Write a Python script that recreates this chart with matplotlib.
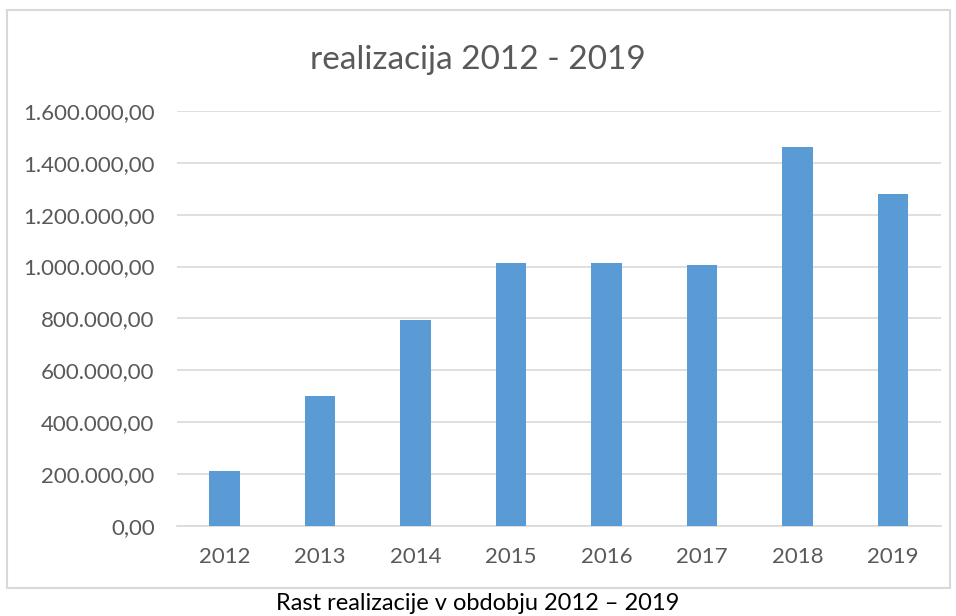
import matplotlib.pyplot as plt
from matplotlib.patches import Rectangle
from matplotlib.ticker import FuncFormatter, MultipleLocator

plt.rcParams['font.family'] = ['Lato', 'DejaVu Sans']

# Data
years = ['2012', '2013', '2014', '2015', '2016', '2017', '2018', '2019']
values = [214000, 500000, 796000, 1012000, 1015000, 1006000, 1462000, 1281000]

bar_color = '#5B9BD5'
grid_color = '#D9D9D9'
text_color = '#595959'


def fmt_eu(v, pos):
    s = f'{v:,.2f}'
    return s.replace(',', 'X').replace('.', ',').replace('X', '.')


fig = plt.figure(figsize=(9.56, 6.16), dpi=100)
ax = fig.add_axes([0.185, 0.146, 0.799, 0.674])

x = range(len(years))
ax.bar(x, values, width=0.32, color=bar_color, zorder=3)

ax.set_xlim(-0.5, len(years) - 0.5)
ax.set_ylim(0, 1600000)
ax.yaxis.set_major_locator(MultipleLocator(200000))
ax.yaxis.set_major_formatter(FuncFormatter(fmt_eu))
ax.set_xticks(list(x))
ax.set_xticklabels(years)

ax.grid(axis='y', color=grid_color, linewidth=1.2, zorder=0)
for side in ['top', 'right', 'left']:
    ax.spines[side].set_visible(False)
ax.spines['bottom'].set_color(grid_color)
ax.spines['bottom'].set_linewidth(1.2)
ax.tick_params(axis='both', length=0, labelsize=16, colors=text_color)
ax.tick_params(axis='x', pad=15)
ax.tick_params(axis='y', pad=16)

# Title and outer frame
fig.text(0.5, 0.902, 'realizacija 2012 - 2019', ha='center', va='center',
         fontsize=24, color=text_color)
fig.patches.append(Rectangle((0.0073, 0.045), 0.9867, 0.939, transform=fig.transFigure,
                             fill=False, edgecolor=grid_color, linewidth=1.5))

# Caption
fig.text(0.5, 0.021, 'Rast realizacije v obdobju 2012 \u2013 2019', ha='center',
         va='center', fontsize=17, color='black')

fig.savefig('out.png', dpi=100)
